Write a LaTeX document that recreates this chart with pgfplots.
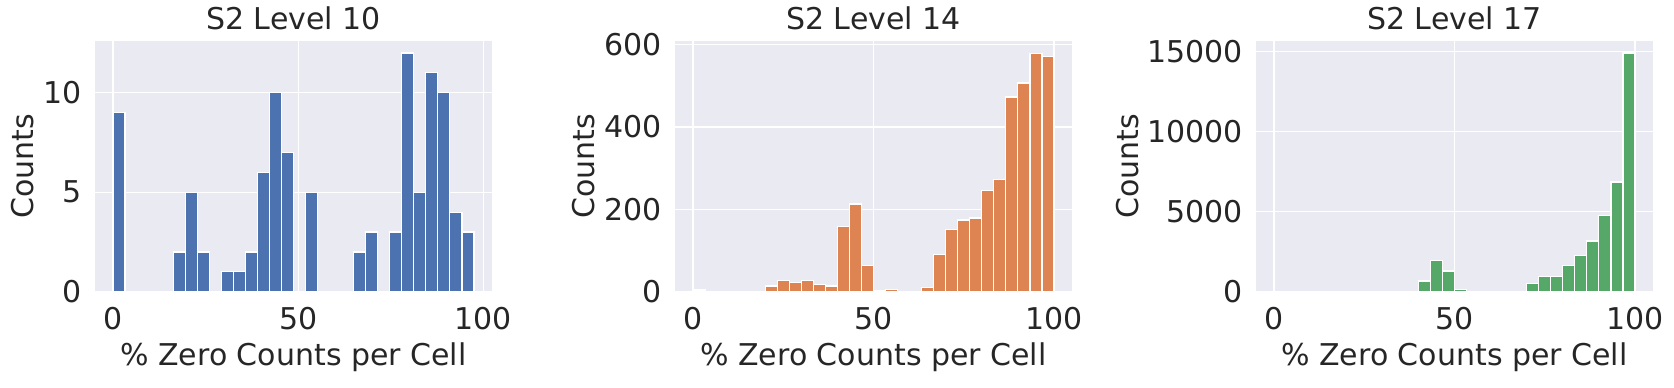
\documentclass[border=0pt]{standalone}
\usepackage{fontspec}
\setmainfont{DejaVu Sans}
\usepackage{pgfplots}
\pgfplotsset{compat=1.18}
\definecolor{sbblue}{RGB}{76,114,176}
\definecolor{sborange}{RGB}{221,132,82}
\definecolor{sbgreen}{RGB}{85,168,104}
\definecolor{sbbg}{RGB}{234,234,242}
\definecolor{sbtext}{RGB}{38,38,38}

\pgfplotsset{
  sbhist/.style={
    width=198.5pt, height=125.35pt, scale only axis,
    anchor=south west,
    axis background/.style={fill=sbbg},
    axis line style={draw=none},
    major tick length=0pt,
    grid=major, grid style={white, line width=0.6pt},
    ymin=0, xmin=-5, xmax=105,
    xtick={0,50,100},
    font=\fontsize{15}{18}\selectfont,
    every tick label/.append style={text=sbtext},
    /pgf/number format/assume math mode=true,
    /pgf/number format/1000 sep={},
    scaled y ticks=false,
    xticklabel style={anchor=base, yshift=-18.8pt},
    yticklabel style={xshift=-3pt},
    every axis title/.style={at={(0.5,1)}, anchor=base, yshift=5.85pt, text=sbtext},
    every axis x label/.style={at={(0.5,0)}, anchor=base, yshift=-36.65pt, text=sbtext},
    xlabel={\% Zero Counts per Cell},
    ylabel={Counts},
  },
  ylab/.style={every axis y label/.style={at={(0,0.5)}, xshift=-#1, rotate=90, anchor=base, text=sbtext}},
  sbbar/.style={ybar interval, fill=#1, draw=white, line width=0.6pt},
}

\begin{document}
\begin{tikzpicture}
\useasboundingbox (0,0) rectangle (837pt,193.5pt);

% level 10
\begin{axis}[sbhist, ylab=30.85pt, at={(47.5pt,47.65pt)}, title={S2 Level 10},
    xmin=-4.875, xmax=102.375, ymax=12.6, ytick={0,5,10}]
  \addplot[sbbar=sbblue] coordinates {
    (0,9) (3.25,0) (6.5,0) (9.75,0) (13,0) (16.25,2) (19.5,5) (22.75,2)
    (26,0) (29.25,1) (32.5,1) (35.75,2) (39,6) (42.25,10) (45.5,7)
    (48.75,0) (52,5) (55.25,0) (58.5,0) (61.75,0) (65,2) (68.25,3)
    (71.5,0) (74.75,3) (78,12) (81.25,5) (84.5,11) (87.75,10) (91,4)
    (94.25,3) (97.5,3)};
\end{axis}

% level 14
\begin{axis}[sbhist, ylab=40.3pt, at={(337.5pt,47.65pt)}, title={S2 Level 14},
    ymax=609, ytick={0,200,400,600}]
  \addplot[sbbar=sborange] coordinates {
    (0,4) (3.333,0) (6.667,0) (10,0) (13.333,0) (16.667,0) (20,14)
    (23.333,27) (26.667,22) (30,27) (33.333,17) (36.667,14) (40,159)
    (43.333,213) (46.667,63) (50,3) (53.333,5) (56.667,0) (60,0)
    (63.333,10) (66.667,91) (70,151) (73.333,174) (76.667,179) (80,245)
    (83.333,273) (86.667,473) (90,507) (93.333,579) (96.667,571) (100,571)};
\end{axis}

% level 17
\begin{axis}[sbhist, ylab=59pt, at={(628pt,47.65pt)}, title={S2 Level 17},
    ymax=15640, ytick={0,5000,10000,15000}]
  \addplot[sbbar=sbgreen] coordinates {
    (0,0) (3.333,0) (6.667,0) (10,0) (13.333,0) (16.667,0) (20,0)
    (23.333,0) (26.667,0) (30,0) (33.333,0) (36.667,0) (40,667)
    (43.333,1934) (46.667,1291) (50,150) (53.333,0) (56.667,0) (60,0)
    (63.333,0) (66.667,0) (70,524) (73.333,936) (76.667,936) (80,1610)
    (83.333,2270) (86.667,3163) (90,4766) (93.333,6843) (96.667,14895)
    (100,14895)};
\end{axis}
\end{tikzpicture}
\end{document}
